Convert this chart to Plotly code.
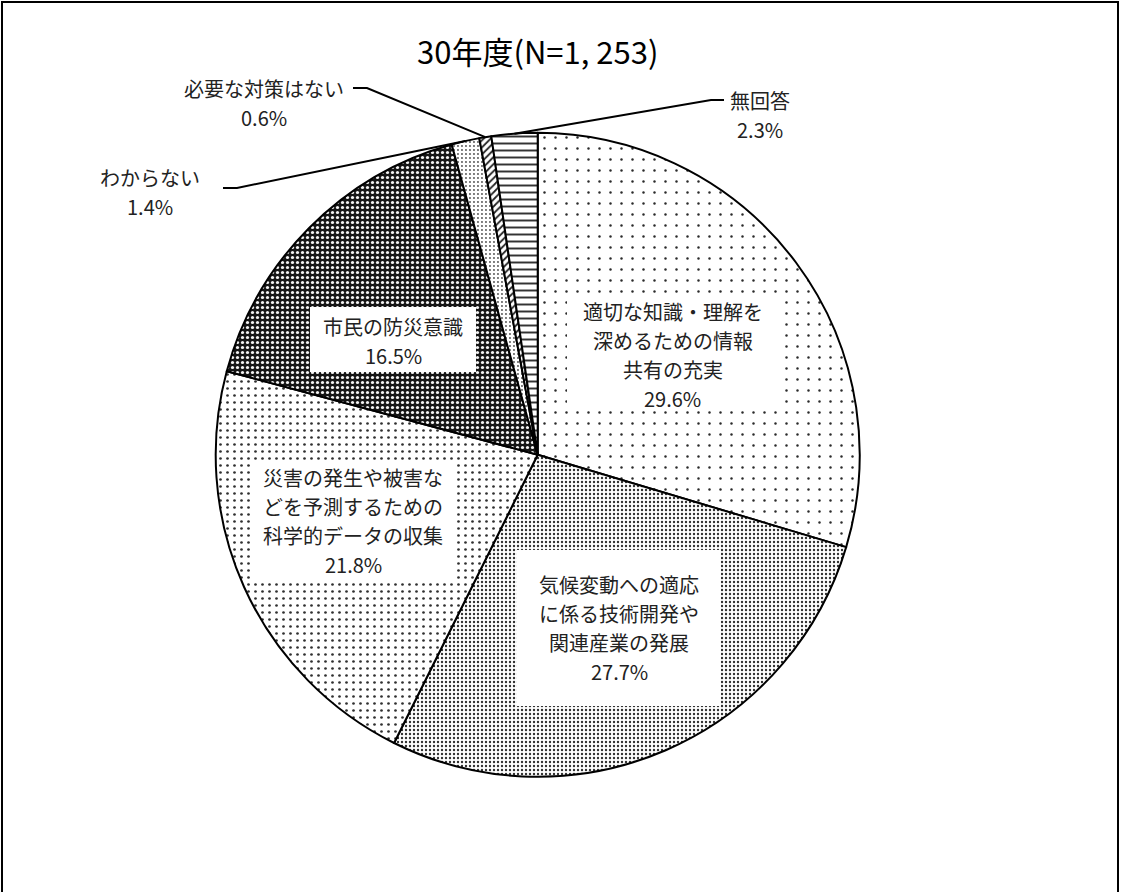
import math
import plotly.graph_objects as go

# Survey answers (FY30, N=1,253), clockwise from 12 o'clock
categories = [
    "適切な知識・理解を深めるための情報共有の充実",
    "気候変動への適応に係る技術開発や関連産業の発展",
    "災害の発生や被害などを予測するための科学的データの収集",
    "市民の防災意識",
    "わからない",
    "必要な対策はない",
    "無回答",
]
values = [29.6, 27.7, 21.8, 16.5, 1.4, 0.6, 2.3]
label_lines = [
    ["適切な知識・理解を", "深めるための情報", "共有の充実"],
    ["気候変動への適応", "に係る技術開発や", "関連産業の発展"],
    ["災害の発生や被害な", "どを予測するための", "科学的データの収集"],
    ["市民の防災意識"],
    ["わからない"],
    ["必要な対策はない"],
    ["無回答"],
]
title_text = "30年度(N=1, 253)"

W, H = 1121, 892
FONT = "Noto Sans CJK JP"
TXT = "#222222"
LINE_GAP = 29  # pixel distance between label lines

# pie geometry in pixels
CX, CY, R = 537.7, 454.8, 322.0


def px(x):
    return x / W


def py(y):
    return 1 - y / H


# fill patterns per slice
bg = ["white", "white", "white", "#151515", "white", "white", "white"]
fg = ["#2a2a2a", "#303030", "#303030", "#f2f2f2", "#505050", "#222222", "#333333"]
shapes = [".", ".", ".", ".", ".", "/", "-"]
sizes = [11, 4, 7, 5, 4, 5, 7]
solid = [0.04, 0.28, 0.12, 0.33, 0.18, 0.35, 0.28]

fig = go.Figure(
    go.Pie(
        labels=categories,
        values=values,
        sort=False,
        direction="clockwise",
        rotation=0,
        textinfo="none",
        hoverinfo="label+percent",
        showlegend=False,
        marker=dict(
            colors=bg,
            line=dict(color="black", width=2),
            pattern=dict(shape=shapes, fgcolor=fg, bgcolor=bg, size=sizes,
                         solidity=solid, fillmode="replace"),
        ),
        domain=dict(x=[px(CX - R), px(CX + R)], y=[py(CY + R), py(CY - R)]),
    )
)

total = sum(values)


def edge_point(i):
    """Outer edge point at the mid angle of slice i (pixels)."""
    cum = sum(values[:i]) + values[i] / 2
    ang = 2 * math.pi * cum / total
    return CX + R * math.sin(ang), CY - R * math.cos(ang)


def pct(v):
    return f"{v:.1f}%"


annotations = []
shapes_list = []


def add_text_block(lines, cx, cy):
    n = len(lines)
    for k, line in enumerate(lines):
        y = cy + (k - (n - 1) / 2) * LINE_GAP
        annotations.append(dict(
            x=px(cx), y=py(y), xref="paper", yref="paper",
            xanchor="center", yanchor="middle", text=line,
            showarrow=False, font=dict(family=FONT, size=20, color=TXT),
        ))


# labels placed inside the slices, on white boxes (x0, x1, y0, y1 in px)
inside = {
    0: dict(x=673, y=355, box=(567, 778, 295, 410)),
    1: dict(x=619, y=628, box=(517, 721, 550, 706)),
    2: dict(x=353, y=521, box=(251, 455, 462, 580)),
    3: dict(x=393, y=341, box=(310, 476, 307, 372)),
}
for i, lab in inside.items():
    x0, x1, y0, y1 = lab["box"]
    shapes_list.append(dict(
        type="rect", xref="paper", yref="paper", layer="above",
        x0=px(x0), x1=px(x1), y0=py(y1), y1=py(y0),
        line=dict(width=0), fillcolor="white",
    ))
    add_text_block(label_lines[i] + [pct(values[i])], lab["x"], lab["y"])

# labels outside the pie, joined by leader lines
outside = {
    4: dict(x=150, y=192, elbow=(237, 188), end=(223, 188)),
    5: dict(x=264, y=103, elbow=(367, 88), end=(353, 88)),
    6: dict(x=760, y=115, elbow=(711, 100), end=(724, 100)),
}
for i, lab in outside.items():
    add_text_block(label_lines[i] + [pct(values[i])], lab["x"], lab["y"])
    ex, ey = edge_point(i)
    (bx, by), (tx, ty) = lab["elbow"], lab["end"]
    shapes_list.append(dict(
        type="path", xref="paper", yref="paper",
        path=f"M {px(ex)},{py(ey)} L {px(bx)},{py(by)} L {px(tx)},{py(ty)}",
        line=dict(color="black", width=2),
    ))

# title
annotations.append(dict(
    x=px(537), y=py(50), xref="paper", yref="paper",
    xanchor="center", yanchor="middle", text=title_text, showarrow=False,
    font=dict(family=FONT, size=31, color="black"),
))

# outer frame
shapes_list.append(dict(
    type="rect", xref="paper", yref="paper",
    x0=px(2), x1=px(1118), y0=-0.05, y1=py(2),
    line=dict(color="black", width=2), fillcolor="rgba(0,0,0,0)",
))

fig.update_layout(
    width=W, height=H, autosize=False,
    margin=dict(l=0, r=0, t=0, b=0),
    paper_bgcolor="white", plot_bgcolor="white",
    annotations=annotations, shapes=shapes_list,
)

fig.write_html("out.html")
